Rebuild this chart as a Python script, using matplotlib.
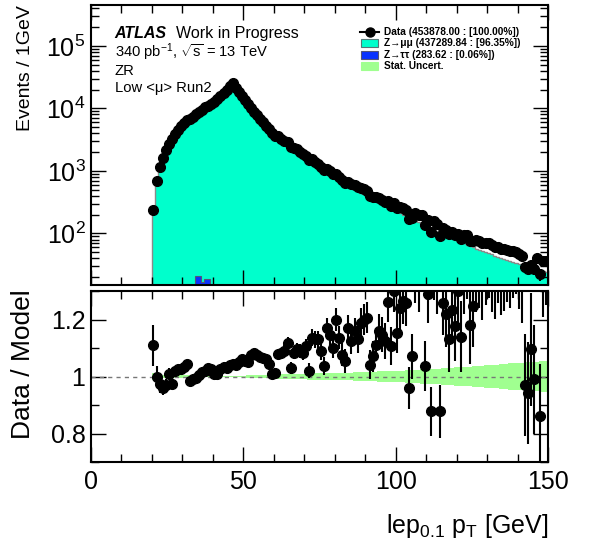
import numpy as np
import matplotlib
matplotlib.use("Agg")
import matplotlib.pyplot as plt
from matplotlib.lines import Line2D
from matplotlib.patches import Rectangle
from matplotlib.ticker import MultipleLocator, LogLocator, NullFormatter, FixedLocator, FixedFormatter

plt.rcParams['font.family'] = ['Liberation Sans', 'DejaVu Sans']
plt.rcParams['mathtext.fontset'] = 'custom'
plt.rcParams['mathtext.rm'] = 'Liberation Sans'
plt.rcParams['mathtext.it'] = 'Liberation Sans:italic'
plt.rcParams['mathtext.default'] = 'regular'

# 1 GeV bins from 20 to 150 GeV
bin_edges = np.arange(20, 151)

# MC Z->mumu prediction per bin (events / GeV), bins 20..149
zmumu = [
    214, 676, 1175, 1660, 2188, 2692, 3311, 3802, 4467, 5012,
    5623, 6166, 6761, 7413, 8128, 8810, 9441, 10120, 10720, 11480,
    12590, 13800, 15140, 16790, 19280, 22130, 24270, 20650, 17380, 14620,
    12740, 11090, 9550, 8222, 7161, 6310, 5623, 5012, 4467, 4027,
    3631, 3311, 3020, 2786, 2570, 2371, 2188, 2018, 1862, 1718,
    1585, 1462, 1349, 1245, 1148, 1072, 1000, 933, 871, 813,
    750, 700, 653, 617, 575, 543, 513, 484, 452, 427,
    403, 380, 359, 339, 316, 299, 282, 266, 251, 237,
    224, 211, 200, 188, 178, 168, 158, 150, 141, 133,
    126, 120, 114, 108, 102, 97.7, 92.3, 88.1, 84.1, 79.4,
    75.9, 72.4, 69.2, 66.1, 63.1, 60.3, 57.5, 55.0, 52.5, 50.1,
    48.4, 46.2, 44.2, 42.7, 40.7, 39.4, 37.6, 36.3, 35.1, 33.5,
    32.4, 31.3, 30.2, 29.2, 28.2, 27.2, 26.3, 25.7, 24.8, 24.0,
]

# MC Z->tautau per bin
ztautau = [
    3, 5, 6, 7, 8, 9, 10, 11, 11, 12,
    12, 13, 13, 14, 21, 21, 17, 19, 19, 14,
    9, 6, 4, 3, 2, 2, 1.5, 1, 1, 1,
    0.5, 0.5, 0.5, 0.5, 0.5, 0.5, 0.5, 0.5, 0.5, 0.5,
] + [0] * 90

# Data / Model ratio per bin
ratio = [
    1.109, 1.00, 0.972, 0.96, 0.97, 1.01, 0.975, 1.02, 1.025, 1.028,
    1.032, 1.045, 0.985, 0.99, 0.995, 1.005, 1.015, 1.02, 1.03, 1.025,
    1.01, 1.008, 1.025, 1.035, 1.03, 1.04, 1.045, 1.04, 1.05, 1.06,
    1.055, 1.05, 1.075, 1.083, 1.075, 1.07, 1.065, 1.06, 1.045, 1.008,
    1.012, 1.08, 1.082, 1.09, 1.118, 1.03, 1.082, 1.095, 1.09, 1.083,
    1.106, 1.02, 1.136, 1.13, 1.13, 1.089, 1.036, 1.171, 1.147, 1.10,
    1.20, 1.136, 1.077, 1.054, 1.171, 1.124, 1.159, 1.13, 1.188, 1.20,
    1.206, 1.042, 1.071, 1.112, 1.159, 1.147, 1.124, 1.26, 1.106, 1.30,
    1.153, 1.241, 1.264, 1.258, 0.96, 1.071, 1.35, 1.32, 1.40, 1.036,
    1.29, 0.878, 1.38, 1.33, 0.878, 1.258, 1.218, 1.13, 1.235, 1.177,
    1.30, 1.14, 1.36, 1.42, 1.182, 1.247, 1.38, 1.40, 1.36, 1.42,
    1.45, 1.40, 1.38, 1.44, 1.40, 1.42, 1.46, 1.44, 1.48, 1.50,
    1.45, 1.40, 0.97, 0.943, 1.095, 0.99, 1.55, 0.861, 1.45, 1.50,
]

# relative MC statistical uncertainty per bin
mc_stat = [
    0.012, 0.008, 0.006, 0.005, 0.005, 0.004, 0.004, 0.004, 0.004, 0.004,
    0.004, 0.004, 0.004, 0.004, 0.003, 0.003, 0.003, 0.003, 0.003, 0.003,
    0.003, 0.003, 0.003, 0.003, 0.003, 0.003, 0.003, 0.003, 0.003, 0.003,
    0.003, 0.004, 0.004, 0.004, 0.005, 0.005, 0.006, 0.006, 0.007, 0.007,
    0.008, 0.008, 0.008, 0.009, 0.009, 0.009, 0.010, 0.010, 0.010, 0.010,
    0.010, 0.011, 0.011, 0.011, 0.011, 0.012, 0.012, 0.012, 0.012, 0.013,
    0.013, 0.013, 0.013, 0.014, 0.014, 0.014, 0.015, 0.015, 0.015, 0.016,
    0.016, 0.016, 0.017, 0.017, 0.018, 0.018, 0.018, 0.019, 0.019, 0.020,
    0.020, 0.021, 0.021, 0.022, 0.022, 0.023, 0.023, 0.024, 0.025, 0.025,
    0.026, 0.026, 0.027, 0.028, 0.028, 0.029, 0.030, 0.030, 0.031, 0.032,
    0.032, 0.033, 0.034, 0.035, 0.035, 0.036, 0.037, 0.038, 0.038, 0.039,
    0.040, 0.041, 0.042, 0.042, 0.043, 0.044, 0.045, 0.046, 0.047, 0.047,
    0.048, 0.049, 0.050, 0.050, 0.051, 0.052, 0.052, 0.053, 0.053, 0.054,
]

legend_labels = [
    'Data (453878.00 : [100.00%])',
    'Z\u2192\u03bc\u03bc (437289.84 : [96.35%])',
    'Z\u2192\u03c4\u03c4 (283.62 : [0.06%])',
    'Stat. Uncert.',
]

c_zmumu = '#00ffcc'
c_ztautau = '#0a32ff'
c_stat = '#a0ff90'

zmumu = np.array(zmumu, dtype=float)
ztautau = np.array(ztautau, dtype=float)
ratio = np.array(ratio)
mc_stat = np.array(mc_stat)
centers = bin_edges[:-1] + 0.5

mc_total = zmumu + ztautau
data = mc_total * ratio
data_err = np.sqrt(data)

W, H = 589, 544
fig = plt.figure(figsize=(W / 100, H / 100), dpi=100)
ax1 = fig.add_axes([91 / W, 1 - 285 / H, 457 / W, 280 / H])
ax2 = fig.add_axes([91 / W, 1 - 462 / H, 457 / W, 171 / H])

# upper panel
ax1.stairs(mc_total, bin_edges, baseline=1e-3, fill=True, color=c_zmumu, lw=0)
ax1.stairs(np.maximum(ztautau, 1e-3), bin_edges, baseline=1e-3, fill=True,
           facecolor=c_ztautau, edgecolor='#555577', lw=0.8)
ax1.stairs(mc_total, bin_edges, baseline=1e-3, color='#8a8a8a', lw=1.0)
ax1.errorbar(centers, data, yerr=data_err, fmt='o', color='black', ms=7,
             elinewidth=1.5, capsize=0)
ax1.set_yscale('log')
ax1.set_xlim(0, 150)
ax1.set_ylim(15, 4.5e5)
ax1.yaxis.set_minor_locator(LogLocator(base=10, subs=np.arange(2, 10)))
ax1.yaxis.set_minor_formatter(NullFormatter())
ax1.set_ylabel('Events / 1GeV', fontsize=14, loc='top')
ax1.yaxis.set_label_coords(-0.125, 1.0)

# ratio panel
ax2.stairs(1 + mc_stat, bin_edges, baseline=1 - mc_stat, fill=True, color=c_stat, lw=0)
ax2.axhline(1, color='#777777', ls=(0, (3, 3)), lw=1)
ax2.errorbar(centers, ratio, yerr=data_err / mc_total, fmt='o', color='black', ms=7,
             elinewidth=1.5, capsize=0)
ax2.set_xlim(0, 150)
ax2.set_ylim(0.7, 1.3)
ax2.yaxis.set_major_locator(FixedLocator([0.8, 1.0, 1.2]))
ax2.yaxis.set_major_formatter(FixedFormatter(['0.8', '1', '1.2']))
ax2.yaxis.set_minor_locator(MultipleLocator(0.1))
ax2.set_ylabel('Data / Model', fontsize=19)
ax2.yaxis.set_label_coords(-0.122, 0.57)
ax2.set_xlabel('lep$_{0.1}$ p$_{T}$ [GeV]', fontsize=18, loc='right')
ax2.xaxis.set_label_coords(1.0, -0.29)

for ax in (ax1, ax2):
    ax.xaxis.set_major_locator(MultipleLocator(50))
    ax.xaxis.set_minor_locator(MultipleLocator(10))
    ax.tick_params(which='both', direction='in', top=True, right=True, width=1.0,
                   labelsize=18)
    ax.tick_params(which='major', length=11)
    ax.tick_params(which='minor', length=6)
    ax.tick_params(axis='y', pad=4)
    ax.tick_params(axis='x', pad=6)
    for s in ax.spines.values():
        s.set_linewidth(1.5)
ax1.tick_params(labelbottom=False)

# labels
ax1.text(0.052, 0.898, 'ATLAS', transform=ax1.transAxes, fontsize=11.5,
         fontweight='bold', fontstyle='italic', va='center')
ax1.text(0.185, 0.898, 'Work in Progress', transform=ax1.transAxes, fontsize=11.5,
         va='center')
ax1.text(0.052, 0.830, '340 pb$^{-1}$, $\\sqrt{s}$ = 13 TeV', transform=ax1.transAxes,
         fontsize=10.6, va='center')
ax1.text(0.052, 0.763, 'ZR', transform=ax1.transAxes, fontsize=10.6, va='center')
ax1.text(0.052, 0.705, 'Low <\u03bc> Run2', transform=ax1.transAxes, fontsize=10.6,
         va='center')

# legend drawn by hand in pixel positions
def fx(x):
    return x / W


def fy(y):
    return 1 - y / H


row_y = [32, 43.3, 54.5, 65.8]
fig.add_artist(Line2D([fx(360), fx(379)], [fy(row_y[0])] * 2, color='black', lw=1.5))
fig.add_artist(Line2D([fx(370)], [fy(row_y[0])], color='black', marker='o', ms=6.5))
box_colors = [(c_zmumu, '#557777'), (c_ztautau, '#555577'), (c_stat, c_stat)]
for (fc, ec), y in zip(box_colors, row_y[1:]):
    fig.add_artist(Rectangle((fx(361), fy(y + 4)), fx(17), 8 / H, facecolor=fc,
                             edgecolor=ec, lw=0.8, transform=fig.transFigure))
for lab, y in zip(legend_labels, row_y):
    fig.text(fx(384), fy(y), lab, fontsize=7.3, fontweight='bold', va='center')

fig.savefig('out.png', dpi=100)
